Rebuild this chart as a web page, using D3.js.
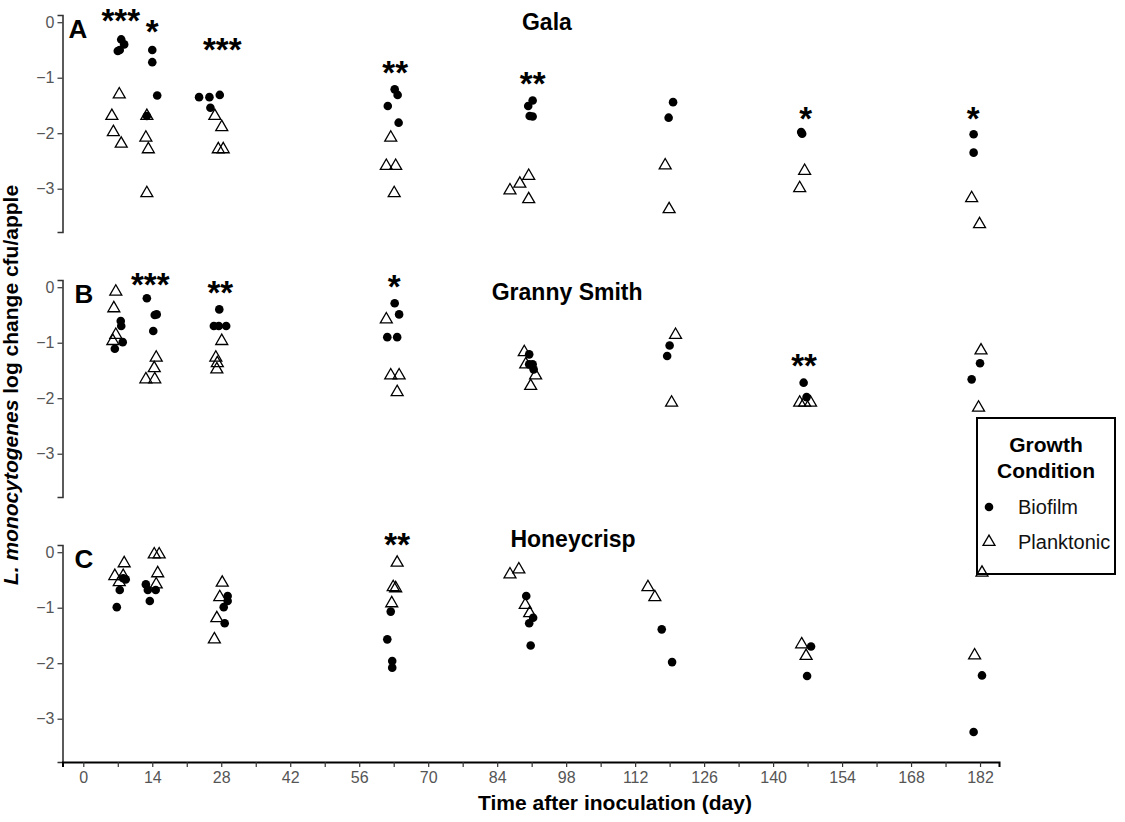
<!DOCTYPE html>
<html>
<head>
<meta charset="utf-8">
<script src="https://cdn.jsdelivr.net/npm/d3@7"></script>
<style>
  body { margin: 0; background: #fff; }
  text { font-family: "Liberation Sans", Arial, Helvetica, sans-serif; }
</style>
</head>
<body>
<svg id="chart" width="1125" height="822"></svg>
<script>
// Survival of L. monocytogenes on three apple cultivars, biofilm vs planktonic inoculum
const cultivars = ["Gala", "Granny Smith", "Honeycrisp"];
const panelLetters = ["A", "B", "C"];
const conditions = ["Biofilm", "Planktonic"];
const xTickValues = d3.range(0, 183, 7);
const yTickValues = [0, -1, -2, -3];

// [day, log change]
const galaBiofilm = [[7.7,-0.31],[8.3,-0.40],[7.4,-0.50],[7.0,-0.52],[14.0,-0.50],[14.0,-0.72],[15.0,-1.32],[12.9,-1.69],[23.5,-1.35],[25.6,-1.35],[27.7,-1.31],[25.8,-1.54],[63.2,-1.21],[63.8,-1.31],[61.8,-1.51],[64.0,-1.81],[91.2,-1.41],[90.3,-1.51],[90.6,-1.69],[91.2,-1.70],[119.7,-1.44],[118.8,-1.72],[145.7,-1.98],[145.9,-2.01],[180.7,-2.02],[180.7,-2.35]];
const galaPlanktonic = [[7.3,-1.30],[5.8,-1.69],[6.1,-1.98],[7.7,-2.19],[12.9,-1.69],[12.7,-2.08],[13.2,-2.29],[12.9,-3.08],[26.7,-1.69],[28.1,-1.89],[27.4,-2.29],[28.4,-2.29],[62.4,-2.08],[61.5,-2.59],[63.4,-2.59],[63.1,-3.08],[90.4,-2.77],[88.6,-2.91],[86.6,-3.03],[90.4,-3.19],[118.1,-2.58],[118.9,-3.37],[146.4,-2.68],[145.4,-2.99],[180.3,-3.17],[181.9,-3.64]];
const grannyBiofilm = [[7.6,-0.61],[7.7,-0.70],[8.0,-0.99],[6.4,-1.11],[12.9,-0.20],[14.5,-0.50],[14.9,-0.49],[14.2,-0.79],[27.6,-0.40],[26.5,-0.70],[27.5,-0.70],[29.0,-0.70],[63.2,-0.29],[64.1,-0.49],[61.7,-0.90],[63.7,-0.90],[90.5,-1.21],[91.2,-1.39],[91.4,-1.48],[90.5,-1.39],[119.0,-1.05],[118.5,-1.24],[146.2,-1.72],[146.8,-1.98],[182.0,-1.37],[180.3,-1.66]];
const grannyPlanktonic = [[6.6,-0.08],[6.2,-0.38],[6.6,-0.86],[6.0,-0.97],[14.8,-1.27],[14.4,-1.46],[12.7,-1.66],[14.5,-1.66],[28.1,-0.97],[26.9,-1.27],[27.2,-1.37],[27.1,-1.48],[61.5,-0.58],[62.4,-1.59],[64.1,-1.59],[63.7,-1.89],[89.5,-1.17],[89.8,-1.39],[91.8,-1.59],[90.8,-1.78],[120.2,-0.86],[119.4,-2.08],[145.4,-2.08],[146.4,-2.08],[147.6,-2.08],[182.2,-1.14],[181.7,-2.17]];
const honeyBiofilm = [[8.1,-0.47],[8.6,-0.49],[7.4,-0.68],[6.8,-0.99],[12.7,-0.58],[13.1,-0.68],[14.7,-0.68],[13.5,-0.88],[29.3,-0.79],[29.3,-0.88],[28.5,-0.99],[28.7,-1.28],[62.4,-1.07],[61.7,-1.57],[62.7,-1.96],[62.7,-2.08],[89.9,-0.79],[91.3,-1.18],[90.5,-1.28],[90.8,-1.68],[117.4,-1.39],[119.5,-1.98],[147.7,-1.70],[146.9,-2.23],[182.4,-2.22],[180.7,-3.24]];
const honeyPlanktonic = [[8.3,-0.20],[6.4,-0.43],[8.1,-0.43],[7.3,-0.54],[14.4,-0.04],[15.4,-0.04],[15.1,-0.38],[14.8,-0.58],[28.2,-0.55],[27.7,-0.81],[27.1,-1.19],[26.6,-1.57],[63.7,-0.19],[62.9,-0.63],[63.4,-0.65],[62.6,-0.92],[86.6,-0.40],[88.4,-0.31],[89.7,-0.95],[90.6,-1.10],[114.6,-0.63],[116.0,-0.81],[145.8,-1.66],[146.7,-1.87],[182.4,-0.37],[180.9,-1.86]];

// significance marks: [day, log change, label]
const galaStars = [[7.6,0.145,"***"],[14.0,-0.05,"*"],[28.2,-0.37,"***"],[63.3,-0.79,"**"],[91.2,-0.99,"**"],[146.6,-1.61,"*"],[180.6,-1.61,"*"]];
const grannyStars = [[13.6,0.17,"***"],[27.8,0.02,"**"],[63.1,0.13,"*"],[146.3,-1.30,"**"]];
const honeyStars = [[63.7,0.26,"**"]];

// cultivar label anchor: [day, log change]
const titleAnchors = [[94.1,-0.14],[98.2,-0.23],[99.4,0.09]];

const panels = [
  { biofilm: galaBiofilm, planktonic: galaPlanktonic, stars: galaStars },
  { biofilm: grannyBiofilm, planktonic: grannyPlanktonic, stars: grannyStars },
  { biofilm: honeyBiofilm, planktonic: honeyPlanktonic, stars: honeyStars }
].map((p, i) => ({ ...p, name: cultivars[i], letter: panelLetters[i], title: titleAnchors[i] }));

const svg = d3.select("#chart");
const plotLeft = 62.5, plotRight = 999;
const panelTops = [15, 280, 545];
const panelHeight = 217;

const x = d3.scaleLinear().domain([-4.22, 185.85]).range([plotLeft, plotRight]);

const triangle = d3.symbol().type(d3.symbolTriangle).size(62);
const ink = "#000";
const tickGrey = "#555";

panels.forEach((p, i) => {
  const top = panelTops[i];
  const y = d3.scaleLinear().domain([-3.78, 0.13]).range([top + panelHeight, top]);
  const g = svg.append("g");

  // y axis
  const yAxis = g.append("g")
    .attr("transform", `translate(${plotLeft},0)`)
    .call(d3.axisLeft(y).tickValues(yTickValues).tickSize(5).tickPadding(3)
      .tickFormat(d => d === 0 ? "0" : "\u2212" + Math.abs(d)));
  yAxis.select(".domain").attr("stroke", "#333").attr("stroke-width", 1.6);
  yAxis.selectAll(".tick line").attr("stroke", "#333").attr("stroke-width", 1.2);
  yAxis.selectAll(".tick text").attr("fill", tickGrey).style("font-size", "16px")
    .style("font-family", "'Liberation Sans', Arial, sans-serif");

  // x axis only on the bottom panel
  if (i === panels.length - 1) {
    const xAxis = g.append("g")
      .attr("transform", `translate(0,${top + panelHeight})`)
      .call(d3.axisBottom(x).tickValues(xTickValues).tickSize(5).tickPadding(5)
        .tickFormat(d => d % 14 === 0 ? d : ""));
    xAxis.select(".domain").attr("stroke", ink).attr("stroke-width", 2);
    xAxis.selectAll(".tick line").attr("stroke", "#333").attr("stroke-width", 1.2);
    xAxis.selectAll(".tick text").attr("fill", tickGrey).style("font-size", "16px")
      .style("font-family", "'Liberation Sans', Arial, sans-serif");
  }

  // panel letter
  g.append("text").attr("x", plotLeft + (i === 0 ? 6 : 12)).attr("y", top + 23)
    .attr("font-size", 26).attr("font-weight", "bold").attr("fill", ink).text(p.letter);

  // cultivar label
  g.append("text").attr("x", x(p.title[0])).attr("y", y(p.title[1]))
    .attr("text-anchor", "middle").attr("font-size", 23).attr("font-weight", "bold")
    .attr("fill", ink).text(p.name);

  // planktonic: open triangles
  g.selectAll(".plank").data(p.planktonic).join("path").attr("class", "plank")
    .attr("d", triangle)
    .attr("transform", d => `translate(${x(d[0])},${y(d[1])})`)
    .attr("fill", "none").attr("stroke", ink).attr("stroke-width", 1.3);

  // biofilm: filled dots
  g.selectAll(".bio").data(p.biofilm).join("circle").attr("class", "bio")
    .attr("cx", d => x(d[0])).attr("cy", d => y(d[1])).attr("r", 4.3).attr("fill", ink);

  // significance stars (glyph centred on the anchor)
  g.selectAll(".star").data(p.stars).join("text").attr("class", "star")
    .attr("x", d => x(d[0])).attr("y", d => y(d[1]) + 18)
    .attr("text-anchor", "middle").attr("font-size", 33).attr("font-weight", "bold")
    .attr("fill", ink).text(d => d[2]);
});

// axis titles
svg.append("text").attr("x", 615).attr("y", 810).attr("text-anchor", "middle")
  .attr("font-size", 21).attr("font-weight", "bold").attr("fill", ink)
  .attr("textLength", 274).attr("lengthAdjust", "spacingAndGlyphs")
  .text("Time after inoculation (day)");

const yTitle = svg.append("text")
  .attr("transform", "translate(18,385) rotate(-90)")
  .attr("text-anchor", "middle").attr("font-size", 21).attr("font-weight", "bold").attr("fill", ink);
yTitle.append("tspan").attr("font-style", "italic").text("L. monocytogenes");
yTitle.append("tspan").text(" log change cfu/apple");

// legend
const legend = svg.append("g").attr("transform", "translate(977,418)");
legend.append("rect").attr("width", 138).attr("height", 156)
  .attr("fill", "none").attr("stroke", ink).attr("stroke-width", 2);
legend.append("text").attr("x", 69).attr("y", 34).attr("text-anchor", "middle")
  .attr("font-size", 21).attr("font-weight", "bold").attr("fill", ink).text("Growth");
legend.append("text").attr("x", 69).attr("y", 60).attr("text-anchor", "middle")
  .attr("font-size", 21).attr("font-weight", "bold").attr("fill", ink).text("Condition");
conditions.forEach((c, k) => {
  const cy = 89 + k * 35;
  if (c === "Biofilm") {
    legend.append("circle").attr("cx", 12).attr("cy", cy).attr("r", 4.3).attr("fill", ink);
  } else {
    legend.append("path").attr("d", triangle).attr("transform", `translate(12,${cy})`)
      .attr("fill", "none").attr("stroke", ink).attr("stroke-width", 1.3);
  }
  legend.append("text").attr("x", 41).attr("y", cy + 7).attr("font-size", 20)
    .attr("fill", "#111").text(c);
});
</script>
</body>
</html>
